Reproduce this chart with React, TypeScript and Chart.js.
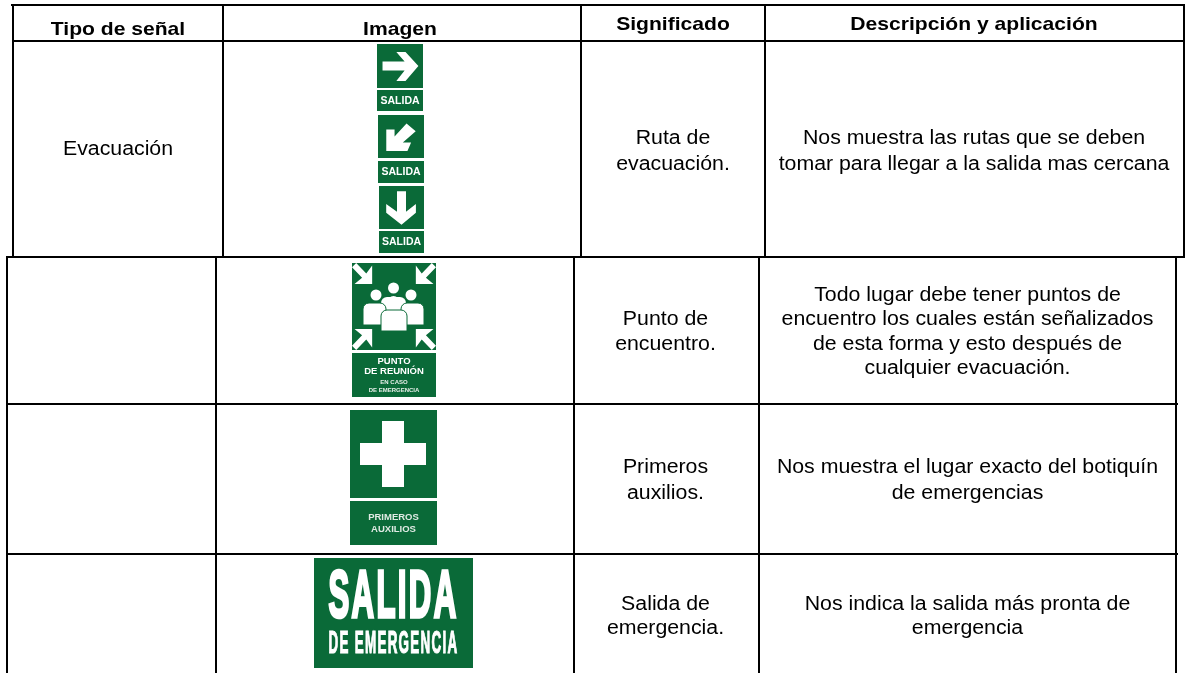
import React, { useEffect, useRef } from "react";
import { Chart, registerables } from "chart.js";

Chart.register(...registerables);

const headers = ["Tipo de señal", "Imagen", "Significado", "Descripción y aplicación"];
const signalTypes = ["Evacuación", "", "", ""];
const meanings = [
  ["Ruta de", "evacuación."],
  ["Punto de", "encuentro."],
  ["Primeros", "auxilios."],
  ["Salida de", "emergencia."],
];
const descriptions = [
  ["Nos muestra las rutas que se deben", "tomar para llegar a la salida mas cercana"],
  [
    "Todo lugar debe tener puntos de",
    "encuentro los cuales están señalizados",
    "de esta forma y esto después de",
    "cualquier evacuación.",
  ],
  ["Nos muestra el lugar exacto del botiquín", "de emergencias"],
  ["Nos indica la salida más pronta de", "emergencia"],
];

const GREEN = "#0a6a38";
const W = 1185;
const H = 673;

// Table rules, in scale units
const topCols = [13, 223, 581, 765, 1184];
const lowCols = [7, 216, 574, 759, 1176];
const rules: { x: number; y: number }[][] = [
  [{ x: 12, y: 5 }, { x: 1185, y: 5 }],
  [{ x: 13, y: 41 }, { x: 1184, y: 41 }],
  [{ x: 7, y: 257 }, { x: 1185, y: 257 }],
  [{ x: 7, y: 404 }, { x: 1177, y: 404 }],
  [{ x: 7, y: 554 }, { x: 1177, y: 554 }],
  ...topCols.map((x) => [{ x, y: 5 }, { x, y: 257 }]),
  ...lowCols.map((x) => [{ x, y: 257 }, { x, y: 673 }]),
];

type Box = { x0: number; y0: number; x1: number; y1: number };
type Pt = [number, number];

const tablePlugin = {
  id: "tablePlugin",
  afterDatasetsDraw(chart: any) {
    const ctx: CanvasRenderingContext2D = chart.ctx;
    const sx = chart.scales.x;
    const sy = chart.scales.y;
    const X = (v: number) => sx.getPixelForValue(v);
    const Y = (v: number) => sy.getPixelForValue(v);

    const rect = (b: Box, color = GREEN) => {
      ctx.fillStyle = color;
      ctx.fillRect(X(b.x0), Y(b.y0), X(b.x1) - X(b.x0), Y(b.y1) - Y(b.y0));
    };
    const poly = (b: Box, pts: Pt[], color = "#fff") => {
      ctx.fillStyle = color;
      ctx.beginPath();
      pts.forEach(([u, v], i) => {
        const px = X(b.x0 + u * (b.x1 - b.x0));
        const py = Y(b.y0 + v * (b.y1 - b.y0));
        if (i === 0) ctx.moveTo(px, py);
        else ctx.lineTo(px, py);
      });
      ctx.closePath();
      ctx.fill();
    };
    const label = (
      text: string,
      cx: number,
      cy: number,
      font: string,
      color = "#fff",
      maxW?: number,
      stroke = 0,
      spacing = "0px"
    ) => {
      ctx.font = font;
      (ctx as any).letterSpacing = spacing;
      ctx.fillStyle = color;
      ctx.textAlign = "center";
      ctx.textBaseline = "middle";
      if (stroke) {
        ctx.strokeStyle = color;
        ctx.lineWidth = stroke;
        ctx.lineJoin = "miter";
        if (maxW) ctx.strokeText(text, X(cx), Y(cy), maxW);
        else ctx.strokeText(text, X(cx), Y(cy));
      }
      if (maxW) ctx.fillText(text, X(cx), Y(cy), maxW);
      else ctx.fillText(text, X(cx), Y(cy));
      (ctx as any).letterSpacing = "0px";
    };
    // Table text: slightly stretched sideways, like the reference scan
    const cellText = (text: string, cx: number, base: number, font: string, stretch: number) => {
      ctx.save();
      ctx.filter = "blur(0.3px)";
      ctx.translate(X(cx), Y(base));
      ctx.scale(stretch, 1);
      ctx.font = font;
      ctx.fillStyle = "#000";
      ctx.textAlign = "center";
      ctx.textBaseline = "alphabetic";
      ctx.fillText(text, 0, 0);
      ctx.restore();
    };

    const SANS = '"Liberation Sans", Arial, sans-serif';

    // Evacuation signs
    const arrowRight: Pt[] = [
      [0.12, 0.4], [0.6, 0.4], [0.42, 0.18], [0.62, 0.18], [0.9, 0.5],
      [0.62, 0.84], [0.42, 0.84], [0.6, 0.6], [0.12, 0.6],
    ];
    const arrowDown: Pt[] = arrowRight.map(([u, v]) => [1 - v, u] as Pt);
    const arrowDiag: Pt[] = [
      [0.18, 0.84], [0.18, 0.34], [0.36, 0.34], [0.36, 0.5], [0.62, 0.2],
      [0.82, 0.38], [0.54, 0.64], [0.72, 0.64], [0.64, 0.84],
    ];

    ctx.save();
    ctx.filter = "blur(0.5px)";
    const evac: [Box, Box, Pt[]][] = [
      [{ x0: 377, y0: 44, x1: 423, y1: 88 }, { x0: 377, y0: 90, x1: 423, y1: 111 }, arrowRight],
      [{ x0: 378, y0: 115, x1: 424, y1: 158 }, { x0: 378, y0: 161, x1: 424, y1: 183 }, arrowDiag],
      [{ x0: 379, y0: 186, x1: 424, y1: 229 }, { x0: 379, y0: 231, x1: 424, y1: 253 }, arrowDown],
    ];
    evac.forEach(([sq, lb, arrow]) => {
      rect(sq);
      poly(sq, arrow);
      rect(lb);
      label("SALIDA", (lb.x0 + lb.x1) / 2, (lb.y0 + lb.y1) / 2 + 0.5, `bold 10.5px ${SANS}`, "#fff", 41);
    });

    // Meeting point sign
    const meet: Box = { x0: 352, y0: 263, x1: 436, y1: 350 };
    rect(meet);
    const corner: Pt[] = [
      [0, 0.05], [0.12, 0.17], [0.03, 0.24], [0.24, 0.24], [0.24, 0.03], [0.17, 0.12], [0.05, 0],
    ];
    poly(meet, corner);
    poly(meet, corner.map(([u, v]) => [1 - u, v] as Pt));
    poly(meet, corner.map(([u, v]) => [u, 1 - v] as Pt));
    poly(meet, corner.map(([u, v]) => [1 - u, 1 - v] as Pt));
    const circle = (cx: number, cy: number, r: number) => {
      ctx.fillStyle = "#fff";
      ctx.beginPath();
      ctx.arc(X(cx), Y(cy), r, 0, Math.PI * 2);
      ctx.fill();
    };
    const body = (x0: number, y0: number, x1: number, y1: number, outline: boolean) => {
      ctx.beginPath();
      ctx.roundRect(X(x0), Y(y0), X(x1) - X(x0), Y(y1) - Y(y0), [6, 6, 0, 0]);
      ctx.fillStyle = "#fff";
      ctx.fill();
      if (outline) {
        ctx.strokeStyle = GREEN;
        ctx.lineWidth = 1;
        ctx.stroke();
      }
    };
    circle(393.5, 288, 5.5);
    body(381, 297, 406, 312, false);
    circle(376, 295, 5.5);
    circle(411, 295, 5.5);
    body(363, 303, 386, 325, true);
    body(401, 303, 424, 325, true);
    body(381, 310, 407, 331, true);
    circle(393.5, 302, 6);
    rect({ x0: 352, y0: 353, x1: 436, y1: 397 });
    label("PUNTO", 394, 361.5, `bold 9.5px ${SANS}`, "#fff", 36);
    label("DE REUNIÓN", 394, 371.5, `bold 9.5px ${SANS}`, "#fff", 62);
    label("EN CASO", 394, 382.7, `bold 6px ${SANS}`, "#e6efe9", 32);
    label("DE EMERGENCIA", 394, 390, `bold 6px ${SANS}`, "#e6efe9", 60);

    // First aid sign
    const aid: Box = { x0: 350, y0: 410, x1: 437, y1: 498 };
    rect(aid);
    rect({ x0: 360, y0: 443, x1: 426, y1: 465 }, "#fff");
    rect({ x0: 382, y0: 421, x1: 404, y1: 487 }, "#fff");
    rect({ x0: 350, y0: 501, x1: 437, y1: 545 });
    label("PRIMEROS", 393.5, 517.5, `bold 9.5px ${SANS}`, "#dfeae3", 55);
    label("AUXILIOS", 393.5, 529.5, `bold 9.5px ${SANS}`, "#dfeae3", 48);

    // Emergency exit sign
    rect({ x0: 314, y0: 558, x1: 473, y1: 668 });
    label("SALIDA", 393.5, 599, `bold 66px ${SANS}`, "#fff", 130, 3.5, "5px");
    label("DE EMERGENCIA", 393.5, 644.5, `bold 31px ${SANS}`, "#fff", 130, 1.2, "3px");
    ctx.restore();

    // Header row
    const headX = [118, 400, 673, 974];
    const headBase = [34.5, 34.5, 30, 30];
    headers.forEach((h, i) => cellText(h, headX[i], headBase[i], `bold 19px ${SANS}`, 1.11));

    // Body rows
    const BODY = `20px ${SANS}`;
    const STRETCH = 1.065;
    cellText(signalTypes[0], 118, 155, BODY, STRETCH);
    const meaningX = [673, 665.5, 665.5, 665.5];
    const meaningBase = [
      [143.5, 169.5],
      [325, 350],
      [473, 499],
      [610, 634],
    ];
    meanings.forEach((lines, r) =>
      lines.forEach((t, i) => cellText(t, meaningX[r], meaningBase[r][i], BODY, STRETCH))
    );
    const descX = [974, 967.5, 967.5, 967.5];
    const descBase = [
      [143.5, 169.5],
      [300.5, 325, 350, 373.5],
      [473, 499],
      [610, 634],
    ];
    descriptions.forEach((lines, r) =>
      lines.forEach((t, i) => cellText(t, descX[r], descBase[r][i], BODY, STRETCH))
    );
  },
};

export default function App() {
  const ref = useRef<HTMLCanvasElement>(null);
  useEffect(() => {
    document.body.style.margin = "0";
    const chart = new Chart(ref.current!, {
      type: "scatter",
      data: {
        datasets: rules.map((data) => ({
          data,
          showLine: true,
          borderColor: "#000",
          borderWidth: 2,
          pointRadius: 0,
          borderCapStyle: "square" as const,
        })),
      },
      options: {
        animation: false,
        responsive: false,
        layout: { padding: 0 },
        plugins: { legend: { display: false }, tooltip: { enabled: false } },
        scales: {
          x: { type: "linear", min: 0, max: W, display: false },
          y: { type: "linear", min: 0, max: H, reverse: true, display: false },
        },
      },
      plugins: [tablePlugin],
    });
    return () => chart.destroy();
  }, []);
  return <canvas ref={ref} width={W} height={H} style={{ display: "block", background: "#fff" }} />;
}
